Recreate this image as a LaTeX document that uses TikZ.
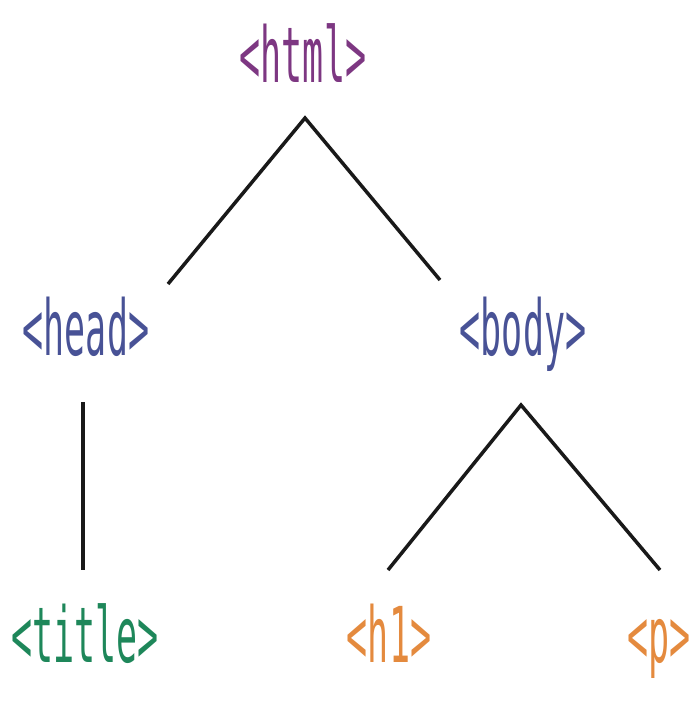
\documentclass[tikz,border=0pt]{standalone}
\usepackage{fontspec}
\setmonofont{DejaVu Sans Mono}
\usetikzlibrary{calc}
\definecolor{cHtml}{RGB}{125,55,130}
\definecolor{cBlue}{RGB}{72,82,150}
\definecolor{cGreen}{RGB}{30,135,90}
\definecolor{cOrange}{RGB}{228,138,62}
\newcommand{\tagtxt}[1]{\scalebox{1}[2.2]{\fontsize{35}{35}\selectfont\ttfamily #1}}
\begin{document}
\begin{tikzpicture}[x=1pt,y=-1pt,
  tag/.style={inner sep=0pt,anchor=base},
  edge/.style={line width=3.5pt,black!90}]
\useasboundingbox (0,0) rectangle (694,701);
\node[tag,text=cHtml]   (html)  at (303,82)  {\tagtxt{<html>}};
\node[tag,text=cBlue]   (head)  at (86,355)  {\tagtxt{<head>}};
\node[tag,text=cBlue]   (body)  at (523,355) {\tagtxt{<body>}};
\node[tag,text=cGreen]  (title) at (85,662)  {\tagtxt{<title>}};
\node[tag,text=cOrange] (h1)    at (389,662) {\tagtxt{<h1>}};
\node[tag,text=cOrange] (p)     at (659,662) {\tagtxt{<p>}};
\draw[edge] ($(head.base)+(82,-71)$) -- ($(html.base)+(2,36)$) -- ($(body.base)+(-83,-75)$);
\draw[edge] ($(head.base)+(-3,47)$) -- ($(title.base)+(-2,-92)$);
\draw[edge] ($(h1.base)+(-1,-92)$) -- ($(body.base)+(-2,50)$) -- ($(p.base)+(1,-92)$);
\end{tikzpicture}
\end{document}
